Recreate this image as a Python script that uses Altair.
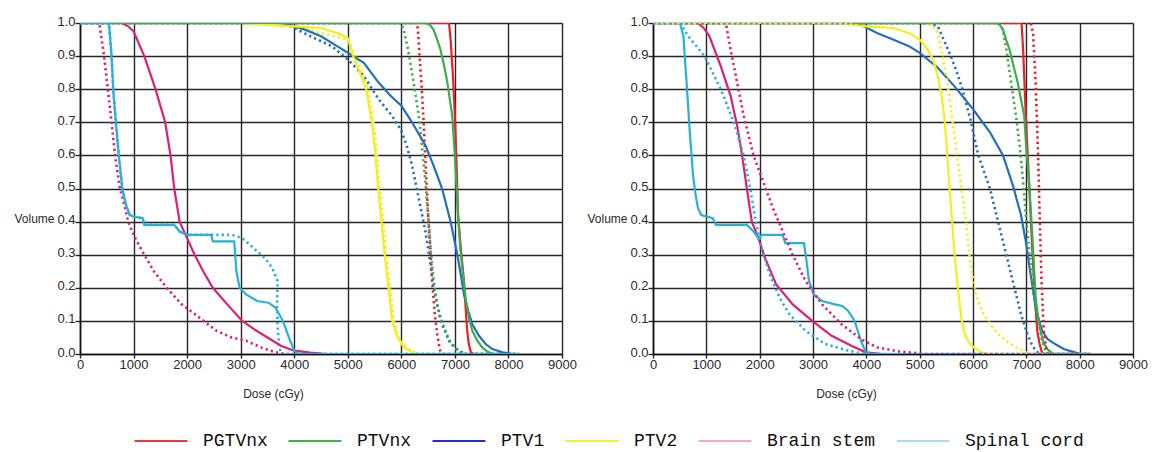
import altair as alt
import pandas as pd

STRUCTURES = ["PGTVnx", "PTVnx", "PTV1", "PTV2", "Brain stem", "Spinal cord"]
LINE_COLORS = ["#e8202a", "#3aae4e", "#2470b8", "#f5ee1e", "#d8207c", "#26b0da"]
LEGEND_COLORS = ["#e8383d", "#3cb44a", "#2b2bd6", "#f5f032", "#f7a8c8", "#a8dcec"]
X_TICKS = [0, 1000, 2000, 3000, 4000, 5000, 6000, 7000, 8000, 9000]
Y_TICKS = [0.0, 0.1, 0.2, 0.3, 0.4, 0.5, 0.6, 0.7, 0.8, 0.9, 1.0]

# ---------- Left panel: (dose cGy, volume) ----------
L_PGTVNX_SOLID = [(0, 1), (6890, 1), (6920, 0.95), (6960, 0.85), (7000, 0.72), (7030, 0.58), (7060, 0.42),
                  (7110, 0.32), (7170, 0.22), (7200, 0.14), (7230, 0.07), (7260, 0.03), (7300, 0.005),
                  (7350, 0), (8200, 0)]
L_PGTVNX_DOT = [(0, 1), (6290, 1), (6310, 0.98), (6340, 0.9), (6375, 0.82), (6410, 0.72), (6440, 0.62),
                (6470, 0.52), (6500, 0.42), (6540, 0.32), (6575, 0.22), (6625, 0.12), (6670, 0.06),
                (6710, 0.02), (6740, 0), (8200, 0)]
L_PTVNX_SOLID = [(0, 1), (6450, 1), (6530, 0.995), (6600, 0.98), (6670, 0.95), (6730, 0.92), (6800, 0.87),
                 (6860, 0.82), (6950, 0.72), (7000, 0.6), (7025, 0.52), (7060, 0.42), (7100, 0.32),
                 (7150, 0.24), (7200, 0.17), (7260, 0.11), (7325, 0.07), (7420, 0.04), (7510, 0.02),
                 (7600, 0.008), (7700, 0), (8200, 0)]
L_PTVNX_DOT = [(0, 1), (5990, 1), (6045, 0.98), (6125, 0.92), (6230, 0.82), (6325, 0.72), (6390, 0.62),
               (6450, 0.52), (6500, 0.42), (6545, 0.32), (6605, 0.22), (6700, 0.12), (6825, 0.07),
               (6900, 0.04), (6980, 0.02), (7140, 0), (8200, 0)]
L_PTV1_SOLID = [(0, 1), (3700, 1), (3900, 0.995), (4200, 0.98), (4500, 0.96), (4800, 0.93), (5000, 0.91),
                (5300, 0.88), (5575, 0.82), (5800, 0.78), (6000, 0.75), (6200, 0.7), (6450, 0.63),
                (6600, 0.57), (6760, 0.5), (6920, 0.4), (7045, 0.3), (7110, 0.24), (7170, 0.18),
                (7250, 0.13), (7325, 0.09), (7450, 0.055), (7575, 0.03), (7700, 0.015), (7890, 0.005),
                (8075, 0), (8200, 0)]
L_PTV1_DOT = [(0, 1), (3800, 1), (4000, 0.985), (4300, 0.96), (4700, 0.93), (5000, 0.89), (5300, 0.84),
              (5575, 0.77), (5825, 0.72), (6000, 0.675), (6100, 0.63), (6200, 0.57), (6325, 0.47),
              (6450, 0.37), (6545, 0.27), (6640, 0.17), (6760, 0.09), (6890, 0.04), (7000, 0.02),
              (7075, 0.01), (7200, 0), (8200, 0)]
L_PTV2_SOLID = [(0, 1), (3000, 1), (4000, 0.99), (4500, 0.985), (4800, 0.97), (5000, 0.955), (5100, 0.9),
                (5200, 0.86), (5345, 0.8), (5450, 0.7), (5520, 0.6), (5565, 0.5), (5630, 0.4),
                (5690, 0.3), (5760, 0.2), (5830, 0.1), (5930, 0.05), (6050, 0.02), (6240, 0.002),
                (6300, 0), (8200, 0)]
L_PTV2_DOT = [(0, 1), (3000, 1), (4000, 0.99), (5000, 0.95), (5150, 0.9), (5380, 0.8), (5480, 0.7),
              (5550, 0.6), (5600, 0.5), (5660, 0.4), (5720, 0.3), (5790, 0.2), (5860, 0.1),
              (5950, 0.05), (6100, 0.02), (6300, 0), (8200, 0)]
L_BRAIN_SOLID = [(0, 1), (780, 1), (900, 0.99), (1000, 0.975), (1200, 0.9), (1410, 0.8), (1590, 0.7),
                 (1690, 0.6), (1760, 0.5), (1860, 0.4), (2000, 0.35), (2140, 0.3), (2300, 0.25),
                 (2480, 0.2), (2750, 0.15), (3030, 0.1), (3250, 0.075), (3500, 0.05), (3750, 0.025),
                 (4000, 0.01), (4300, 0.004), (4600, 0), (8200, 0)]
L_BRAIN_DOT = [(0, 1), (360, 1), (450, 0.9), (520, 0.8), (590, 0.7), (655, 0.6), (745, 0.5), (830, 0.45),
               (900, 0.4), (1030, 0.35), (1200, 0.3), (1380, 0.25), (1620, 0.2), (1900, 0.15),
               (2310, 0.1), (2550, 0.07), (2830, 0.05), (3100, 0.04), (3380, 0.02), (3650, 0.005),
               (3860, 0), (8200, 0)]
L_SPINAL_SOLID = [(0, 1), (540, 1), (590, 0.9), (620, 0.8), (670, 0.7), (725, 0.6), (790, 0.5),
                  (860, 0.45), (930, 0.42), (1000, 0.415), (1170, 0.41), (1200, 0.39), (1760, 0.39),
                  (1860, 0.37), (2000, 0.36), (2450, 0.36), (2480, 0.34), (2880, 0.34), (2920, 0.25),
                  (2980, 0.2), (3100, 0.18), (3310, 0.16), (3520, 0.155), (3650, 0.14), (3790, 0.1),
                  (3900, 0.05), (4000, 0.01), (4070, 0), (8200, 0)]
L_SPINAL_DOT = [(0, 1), (540, 1), (590, 0.9), (620, 0.8), (670, 0.7), (725, 0.6), (790, 0.5),
                (860, 0.45), (930, 0.42), (1000, 0.415), (1170, 0.41), (1200, 0.39), (1760, 0.39),
                (1860, 0.37), (2000, 0.36), (2830, 0.36), (3030, 0.35), (3240, 0.32), (3450, 0.29),
                (3590, 0.26), (3690, 0.22), (3680, 0.15), (3690, 0.08), (3720, 0.02), (3760, 0),
                (8200, 0)]

# ---------- Right panel ----------
R_PGTVNX_SOLID = [(0, 1), (6910, 1), (6940, 0.92), (6990, 0.72), (7050, 0.52), (7110, 0.32), (7160, 0.17),
                  (7205, 0.07), (7250, 0.03), (7285, 0.008), (7320, 0), (8200, 0)]
R_PGTVNX_DOT = [(0, 1), (7080, 1), (7125, 0.97), (7175, 0.82), (7217, 0.62), (7250, 0.42), (7285, 0.22),
                (7327, 0.07), (7360, 0.03), (7390, 0.005), (7420, 0), (8200, 0)]
R_PTVNX_SOLID = [(0, 1), (6440, 1), (6500, 0.995), (6563, 0.98), (6620, 0.95), (6685, 0.92), (6760, 0.87),
                 (6838, 0.82), (6960, 0.72), (7000, 0.62), (7050, 0.52), (7090, 0.42), (7125, 0.32),
                 (7175, 0.17), (7220, 0.11), (7265, 0.07), (7320, 0.035), (7390, 0.015), (7510, 0),
                 (8200, 0)]
R_PTVNX_DOT = [(0, 1), (6480, 1), (6560, 0.98), (6625, 0.92), (6715, 0.82), (6807, 0.72), (6880, 0.62),
               (6940, 0.52), (6990, 0.42), (7050, 0.32), (7110, 0.22), (7205, 0.12), (7295, 0.04),
               (7360, 0.01), (7400, 0), (8200, 0)]
R_PTV1_SOLID = [(0, 1), (3800, 1), (3950, 0.99), (4200, 0.97), (4500, 0.95), (4800, 0.93), (5000, 0.91),
                (5340, 0.865), (5645, 0.81), (6000, 0.74), (6318, 0.67), (6563, 0.6), (6746, 0.51),
                (6900, 0.42), (6990, 0.34), (7080, 0.24), (7175, 0.14), (7240, 0.1), (7297, 0.07),
                (7400, 0.045), (7540, 0.03), (7700, 0.015), (7910, 0.005), (8000, 0), (8200, 0)]
R_PTV1_DOT = [(0, 1), (5150, 1), (5250, 0.995), (5340, 0.99), (5450, 0.95), (5584, 0.9), (5700, 0.85),
              (5800, 0.8), (5950, 0.71), (6100, 0.6), (6318, 0.5), (6470, 0.4), (6624, 0.3),
              (6777, 0.2), (6900, 0.12), (7020, 0.06), (7100, 0.03), (7175, 0.01), (7250, 0), (8200, 0)]
R_PTV2_SOLID = [(0, 1), (3500, 1), (4000, 0.99), (4500, 0.985), (4800, 0.97), (5000, 0.95), (5150, 0.92),
                (5250, 0.89), (5340, 0.84), (5400, 0.79), (5460, 0.72), (5510, 0.62), (5550, 0.52),
                (5600, 0.42), (5645, 0.32), (5690, 0.24), (5737, 0.17), (5780, 0.11), (5830, 0.07),
                (5900, 0.04), (6012, 0.02), (6150, 0.005), (6260, 0), (8200, 0)]
R_PTV2_DOT = [(0, 1), (5100, 1), (5250, 0.99), (5340, 0.97), (5430, 0.9), (5520, 0.82), (5645, 0.67),
              (5768, 0.52), (5890, 0.37), (5950, 0.27), (6073, 0.17), (6200, 0.12), (6318, 0.09),
              (6470, 0.06), (6624, 0.04), (6800, 0.02), (6930, 0.01), (7050, 0), (8200, 0)]
R_BRAIN_SOLID = [(0, 1), (845, 1), (950, 0.985), (1058, 0.96), (1270, 0.87), (1455, 0.78), (1578, 0.69),
                 (1670, 0.6), (1760, 0.5), (1853, 0.4), (1975, 0.35), (2100, 0.29), (2310, 0.21),
                 (2620, 0.15), (2985, 0.1), (3350, 0.055), (3720, 0.025), (3990, 0.005), (4300, 0),
                 (8200, 0)]
R_BRAIN_DOT = [(0, 1), (1365, 1), (1455, 0.92), (1578, 0.82), (1700, 0.72), (1885, 0.6), (2067, 0.52),
               (2250, 0.44), (2434, 0.37), (2618, 0.3), (2862, 0.22), (3170, 0.15), (3535, 0.09),
               (3900, 0.045), (4200, 0.02), (4600, 0.008), (5100, 0), (8200, 0)]
R_SPINAL_SOLID = [(0, 1), (508, 1), (570, 0.96), (630, 0.82), (690, 0.67), (750, 0.54), (800, 0.48),
                  (845, 0.44), (905, 0.42), (1120, 0.41), (1180, 0.39), (1760, 0.39), (1885, 0.37),
                  (1975, 0.35), (2040, 0.36), (2430, 0.36), (2480, 0.335), (2830, 0.335), (2880, 0.28),
                  (2925, 0.22), (3015, 0.18), (3170, 0.16), (3410, 0.15), (3550, 0.145), (3660, 0.13),
                  (3780, 0.1), (3900, 0.04), (3990, 0.005), (4100, 0), (8200, 0)]
R_SPINAL_DOT = [(0, 1), (508, 1), (660, 0.96), (966, 0.9), (1270, 0.8), (1517, 0.7), (1700, 0.6),
                (1823, 0.5), (1915, 0.41), (2037, 0.32), (2190, 0.24), (2373, 0.17), (2557, 0.12),
                (2860, 0.07), (3230, 0.03), (3660, 0.01), (3960, 0), (8200, 0)]

# draw order (first drawn = bottom)
LEFT_SERIES = [
    ("PGTVnx", "dot", L_PGTVNX_DOT), ("PTV1", "dot", L_PTV1_DOT), ("PTV2", "dot", L_PTV2_DOT),
    ("Brain stem", "dot", L_BRAIN_DOT), ("PTVnx", "dot", L_PTVNX_DOT), ("Spinal cord", "dot", L_SPINAL_DOT),
    ("PGTVnx", "solid", L_PGTVNX_SOLID), ("PTV1", "solid", L_PTV1_SOLID), ("PTV2", "solid", L_PTV2_SOLID),
    ("Brain stem", "solid", L_BRAIN_SOLID), ("PTVnx", "solid", L_PTVNX_SOLID),
    ("Spinal cord", "solid", L_SPINAL_SOLID),
]
RIGHT_SERIES = [
    ("PGTVnx", "solid", R_PGTVNX_SOLID), ("PTV1", "solid", R_PTV1_SOLID), ("Brain stem", "solid", R_BRAIN_SOLID),
    ("PTVnx", "solid", R_PTVNX_SOLID), ("Spinal cord", "solid", R_SPINAL_SOLID), ("PTV2", "solid", R_PTV2_SOLID),
    ("PGTVnx", "dot", R_PGTVNX_DOT), ("PTV1", "dot", R_PTV1_DOT), ("PTV2", "dot", R_PTV2_DOT),
    ("Brain stem", "dot", R_BRAIN_DOT), ("PTVnx", "dot", R_PTVNX_DOT), ("Spinal cord", "dot", R_SPINAL_DOT),
]

FONT = "Liberation Sans"
color_scale = alt.Scale(domain=STRUCTURES, range=LINE_COLORS)
x_scale = alt.Scale(domain=[0, 9000], nice=False)
y_scale = alt.Scale(domain=[0, 1], nice=False)


def x_axis():
    return alt.Axis(values=X_TICKS, format="d", grid=True, gridColor="#262626", gridWidth=1.4,
                    domainColor="#111", domainWidth=1.6, tickColor="#262626", tickSize=4, tickWidth=1.4,
                    labelFont=FONT, labelFontSize=13, labelColor="#2a2a2a", labelPadding=0,
                    labelFlush=False, title="Dose (cGy)", titleFont=FONT, titleFontSize=12,
                    titleFontWeight="normal", titleColor="#2a2a2a", titleX=193, titleY=39,
                    titleBaseline="middle")


def y_axis():
    return alt.Axis(values=Y_TICKS, format=".1f", grid=True, gridColor="#262626", gridWidth=1.4,
                    domainColor="#111", domainWidth=1.6, tickColor="#262626", tickSize=5, tickWidth=1.4,
                    labelFont=FONT, labelFontSize=13, labelColor="#2a2a2a", labelPadding=0,
                    labelOffset=-2, labelFlush=False,
                    title="Volume", titleFont=FONT, titleFontSize=12, titleFontWeight="normal",
                    titleColor="#2a2a2a", titleAngle=0, titleX=-46, titleY=195, titleAlign="center",
                    titleBaseline="middle")


def panel(series, width, with_legend):
    layers = []
    for name, style, pts in series:
        df = pd.DataFrame({"dose": [p[0] for p in pts], "vol": [p[1] for p in pts],
                           "structure": name, "idx": list(range(len(pts)))})
        if style == "solid":
            mk = alt.Chart(df).mark_line(strokeWidth=2.2, clip=True)
        else:
            mk = alt.Chart(df).mark_line(strokeWidth=2.6, strokeDash=[2.2, 3.2], clip=True)
        layers.append(mk.encode(
            x=alt.X("dose:Q", scale=x_scale, axis=x_axis()),
            y=alt.Y("vol:Q", scale=y_scale, axis=y_axis()),
            color=alt.Color("structure:N", scale=color_scale, legend=None),
            order="idx:Q",
        ))
    if with_legend:
        leg_df = pd.DataFrame({"dose": [0] * len(STRUCTURES), "vol": [0] * len(STRUCTURES),
                               "lg": STRUCTURES})
        layers.append(alt.Chart(leg_df).mark_line(opacity=0).encode(
            x=alt.X("dose:Q", scale=x_scale, axis=x_axis()),
            y=alt.Y("vol:Q", scale=y_scale, axis=y_axis()),
            stroke=alt.Stroke("lg:N", sort=STRUCTURES, scale=alt.Scale(range=LEGEND_COLORS),
                              legend=alt.Legend(orient="none", legendX=72, legendY=409,
                                                direction="horizontal", title=None,
                                                symbolType="M-5,0H5", symbolSize=112,
                                                symbolStrokeWidth=2, symbolOpacity=1,
                                                labelFont="Liberation Mono", labelFontSize=18,
                                                labelColor="#111", labelOffset=33,
                                                columnPadding=16)),
        ))
    return alt.layer(*layers).properties(width=width, height=331)


left = panel(LEFT_SERIES, 482, True)
right = panel(RIGHT_SERIES, 480, False)

chart = alt.hconcat(left, right, spacing=9).properties(
    padding={"left": 5, "top": 6, "right": 0, "bottom": 4}
).configure_view(strokeWidth=0).configure(background="white")

chart.save("out.html", embed_options={"renderer": "svg", "actions": False})
